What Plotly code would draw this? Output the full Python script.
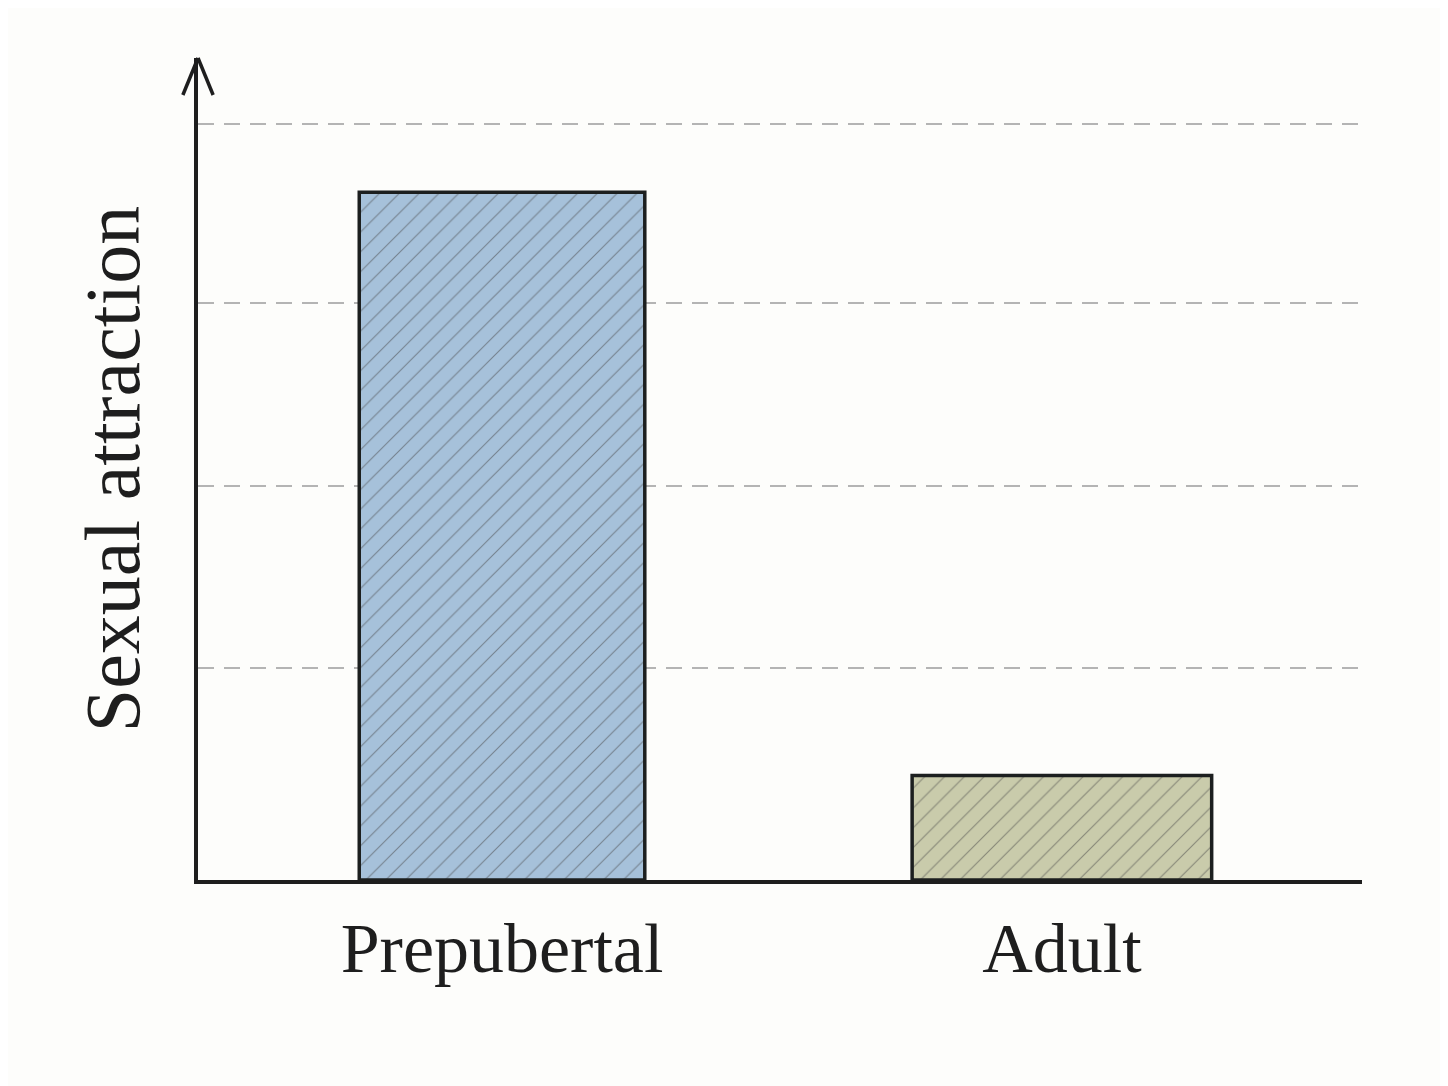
import plotly.graph_objects as go

# Data (arbitrary units, no numeric ticks shown)
groups = ["Prepubertal", "Adult"]
attraction = [7.64, 1.16]
bar_colors = ["#a6c1da", "#c9cbab"]
grid_levels = [2.36, 4.38, 6.41, 8.4]
y_top = 9.13

fig = go.Figure()

fig.add_trace(go.Bar(
    x=[0, 1],
    y=attraction,
    width=[0.51, 0.535],
    marker=dict(
        color=bar_colors,
        line=dict(color="#1c1f1f", width=3.5),
        pattern=dict(shape="/", fgcolor="#26303a", size=14, solidity=0.08),
    ),
    hovertemplate="%{text}: %{y}<extra></extra>",
    text=groups,
    textposition="none",
))

fig.update_layout(
    width=1448,
    height=1086,
    margin=dict(l=190, r=94, t=50, b=214),
    paper_bgcolor="#fdfdfb",
    plot_bgcolor="#fdfdfb",
    font=dict(family="Liberation Serif", color="#1e1e1e"),
    showlegend=False,
    xaxis=dict(
        range=[-0.543, 1.536],
        tickvals=[0, 1],
        ticktext=groups,
        tickfont=dict(size=70),
        showgrid=False,
        zeroline=False,
        showline=True,
        linecolor="#1e1e1e",
        linewidth=3.5,
        ticks="",
        ticklabelstandoff=4,
    ),
    yaxis=dict(
        range=[0, y_top],
        tickvals=grid_levels,
        showticklabels=False,
        showgrid=True,
        gridcolor="#b4b4b4",
        griddash="16px,10px",
        gridwidth=1.5,
        zeroline=False,
        showline=True,
        linecolor="#1e1e1e",
        linewidth=3.5,
        ticks="",
        title=dict(text="Sexual attraction", font=dict(size=78), standoff=30),
    ),
)

# open arrowhead on top of the y axis
fig.add_shape(type="line", xref="paper", yref="paper",
              x0=-0.013, y0=0.955, x1=0, y1=1.0,
              line=dict(color="#1e1e1e", width=3.5))
fig.add_shape(type="line", xref="paper", yref="paper",
              x0=0.013, y0=0.955, x1=0, y1=1.0,
              line=dict(color="#1e1e1e", width=3.5))

fig.write_html("out.html")
